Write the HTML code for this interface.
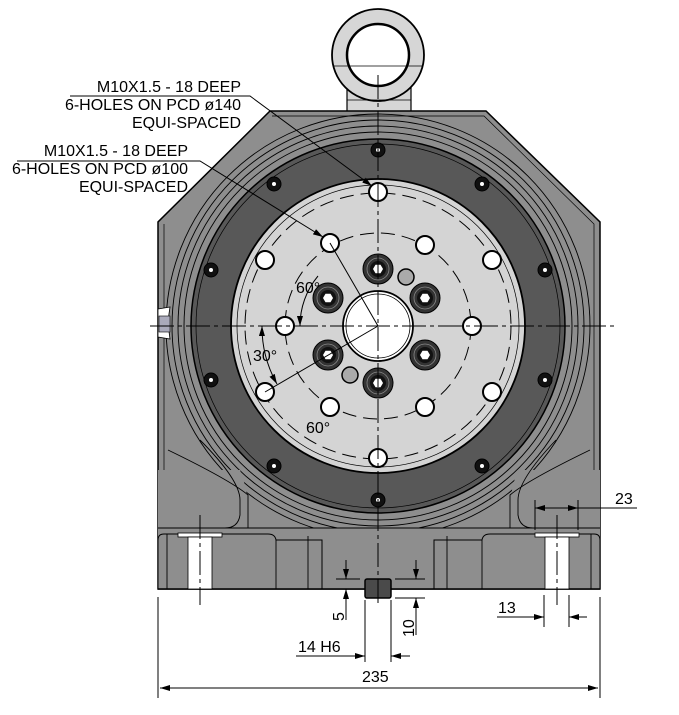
<!DOCTYPE html>
<html><head><meta charset="utf-8"><style>html,body{margin:0;padding:0;background:#fff}svg{display:block}</style></head>
<body>
<svg width="679" height="715" viewBox="0 0 679 715" xmlns="http://www.w3.org/2000/svg" font-family="Liberation Sans, sans-serif">
<defs>
<marker id="a" markerWidth="10" markerHeight="6" refX="10" refY="3" orient="auto" markerUnits="userSpaceOnUse"><path d="M0,0 L10,3 L0,6z" fill="#000"/></marker>
<marker id="b" markerWidth="10" markerHeight="6" refX="0" refY="3" orient="auto" markerUnits="userSpaceOnUse"><path d="M10,0 L0,3 L10,6z" fill="#000"/></marker>
<g id="hx"><circle r="15" fill="#333" stroke="#000"/><circle r="11" fill="none" stroke="#888" stroke-width="0.8"/><circle r="8" fill="#111"/><polygon points="-5,0 -2.5,-4.3 2.5,-4.3 5,0 2.5,4.3 -2.5,4.3" fill="#fff"/></g>
</defs>
<!-- eyebolt -->
<path d="M347,88 L347,112 L411,112 L411,88 Z" fill="#d6d6d6" stroke="#000" stroke-width="1.2"/>
<circle cx="378" cy="55" r="46" fill="#d6d6d6" stroke="#000" stroke-width="1.8"/>
<circle cx="378" cy="55" r="31" fill="#fff" stroke="#000" stroke-width="2.5"/>
<line x1="333" y1="66" x2="423" y2="66" stroke="#000" stroke-width="0.8"/>
<line x1="347" y1="100" x2="411" y2="100" stroke="#000" stroke-width="0.8"/>
<!-- housing -->
<path d="M270,111 L486,111 L600,222 L600,589 L158,589 L158,222 Z" fill="#8e8e8e" stroke="#000" stroke-width="1.5"/>
<path d="M272,116 L484,116 L594,224 L594,528 M164,528 L164,224 Z" fill="none" stroke="#000" stroke-width="0.7"/>
<line x1="158" y1="528" x2="600" y2="528" stroke="#000" stroke-width="0.9"/>
<!-- grooves -->
<g fill="none" stroke="#000" stroke-width="0.9">
<circle cx="378" cy="326" r="212"/><circle cx="378" cy="326" r="206"/><circle cx="378" cy="326" r="200"/><circle cx="378" cy="326" r="194"/>
</g>
<path d="M158,528 L600,528 L600,589 L158,589Z" fill="#8e8e8e"/>
<path d="M158,470 L240,470 Q248,490 248,510 L248,528 L158,528Z" fill="#8e8e8e"/>
<path d="M600,470 L518,470 Q510,490 510,510 L510,528 L600,528Z" fill="#8e8e8e"/>
<path d="M200,440 Q240,480 240,500 L240,515 Q238,528 225,528 M168,450 Q230,480 248,495 L248,528" fill="none" stroke="#000" stroke-width="0.9"/>
<path d="M556,440 Q518,480 518,500 L518,515 Q520,528 533,528 M590,450 Q528,480 510,495 L510,528" fill="none" stroke="#000" stroke-width="0.9"/>
<line x1="158" y1="528" x2="600" y2="528" stroke="#000" stroke-width="0.9"/>
<!-- feet -->
<path d="M158,589 L158,540 Q158,534 164,534 L268,534 Q275,534 276,540 L322,540 L322,589Z" fill="#8e8e8e" stroke="#000" stroke-width="1"/>
<path d="M600,589 L600,540 Q600,534 594,534 L490,534 Q483,534 482,540 L434,540 L434,589Z" fill="#8e8e8e" stroke="#000" stroke-width="1"/>
<g stroke="#000" stroke-width="0.9"><line x1="167" y1="534" x2="167" y2="589"/><line x1="276" y1="540" x2="276" y2="589"/><line x1="308" y1="536" x2="308" y2="589"/>
<line x1="591" y1="534" x2="591" y2="589"/><line x1="482" y1="540" x2="482" y2="589"/><line x1="447" y1="536" x2="447" y2="589"/></g>
<line x1="158" y1="589" x2="600" y2="589" stroke="#000" stroke-width="1.5"/>
<rect x="178" y="533" width="44" height="4" fill="#fff" stroke="#000" stroke-width="0.8"/>
<rect x="188" y="537" width="24" height="52" fill="#fff" stroke="#000" stroke-width="0.8"/>
<rect x="535" y="533" width="44" height="4" fill="#fff" stroke="#000" stroke-width="0.8"/>
<rect x="545" y="537" width="24" height="52" fill="#fff" stroke="#000" stroke-width="0.8"/>
<rect x="365" y="579" width="26" height="19" rx="2" fill="#4a4a4a" stroke="#000" stroke-width="1.5"/>
<!-- side plug -->
<path d="M158,309 L170,307 Q167,322 170,339 L158,337Z" fill="#fff" stroke="#000" stroke-width="0.8"/>
<rect x="159" y="316" width="11" height="16" fill="#aab" stroke="#000" stroke-width="0.6"/>
<!-- dark ring -->
<circle cx="378" cy="326" r="187" fill="#585858" stroke="#000" stroke-width="1.5"/>
<circle cx="378" cy="326" r="182" fill="none" stroke="#000" stroke-width="0.7"/>
<g fill="#111" stroke="#000">
<circle cx="378" cy="150" r="7"/><circle cx="274" cy="184" r="7"/><circle cx="482" cy="184" r="7"/>
<circle cx="211" cy="270" r="7"/><circle cx="545" cy="270" r="7"/><circle cx="211" cy="380" r="7"/><circle cx="545" cy="380" r="7"/>
<circle cx="274" cy="466" r="7"/><circle cx="482" cy="466" r="7"/><circle cx="378" cy="500" r="7"/></g>
<g fill="#fff"><circle cx="378" cy="150" r="2"/><circle cx="274" cy="184" r="2"/><circle cx="482" cy="184" r="2"/>
<circle cx="211" cy="270" r="2"/><circle cx="545" cy="270" r="2"/><circle cx="211" cy="380" r="2"/><circle cx="545" cy="380" r="2"/>
<circle cx="274" cy="466" r="2"/><circle cx="482" cy="466" r="2"/><circle cx="378" cy="500" r="2"/></g>
<!-- plate -->
<circle cx="378" cy="326" r="147" fill="#d4d4d4" stroke="#000" stroke-width="1.8"/>
<circle cx="378" cy="326" r="141" fill="none" stroke="#000" stroke-width="0.7"/>
<g fill="none" stroke="#000" stroke-width="1" stroke-dasharray="14,7">
<circle cx="378" cy="326" r="133"/><circle cx="378" cy="326" r="93"/></g>
<circle cx="378" cy="326" r="35" fill="#fff" stroke="#000" stroke-width="1.8"/>
<circle cx="378" cy="326" r="32" fill="none" stroke="#000" stroke-width="0.8"/>
<use href="#hx" x="378" y="269"/><use href="#hx" x="328" y="298"/><use href="#hx" x="425" y="298"/>
<use href="#hx" x="328" y="355"/><use href="#hx" x="425" y="355"/><use href="#hx" x="378" y="383"/>
<circle cx="406" cy="277" r="8" fill="#aaa" stroke="#000" stroke-width="1.5"/>
<circle cx="350" cy="375" r="8" fill="#aaa" stroke="#000" stroke-width="1.5"/>
<g fill="#fff" stroke="#000" stroke-width="2">
<circle cx="378" cy="192" r="9"/><circle cx="378" cy="458" r="9"/><circle cx="265" cy="260" r="9"/><circle cx="492" cy="260" r="9"/><circle cx="265" cy="392" r="9"/><circle cx="492" cy="392" r="9"/>
<circle cx="330" cy="243" r="9"/><circle cx="425" cy="245" r="9"/><circle cx="285" cy="326" r="9"/><circle cx="472" cy="326" r="9"/><circle cx="330" cy="407" r="9"/><circle cx="425" cy="407" r="9"/></g>
<g stroke="#000" stroke-width="1" stroke-dasharray="24,4,4,4">
<line x1="150" y1="326" x2="615" y2="326"/><line x1="378" y1="75" x2="378" y2="605"/>
<line x1="200" y1="515" x2="200" y2="605"/><line x1="557" y1="515" x2="557" y2="605"/></g>
<g stroke="#000" stroke-width="1" fill="none">
<line x1="378" y1="326" x2="330" y2="243"/><line x1="378" y1="326" x2="265" y2="392"/>
<path d="M300,326 A78,78 0 0 1 318,276" marker-start="url(#b)"/>
<path d="M262,326 A116,116 0 0 0 277,384" marker-start="url(#b)" marker-end="url(#a)"/>
</g>
<g font-size="16" fill="#000">
<text x="296" y="293">60°</text><text x="253" y="361">30°</text><text x="306" y="433">60°</text></g>
<g stroke="#000" stroke-width="1" fill="none">
<polyline points="70,96 250,96 372,186" marker-end="url(#a)"/>
<polyline points="17,161 200,161 323,237" marker-end="url(#a)"/>
</g>
<g font-size="16" fill="#000" text-anchor="end">
<text x="241" y="92">M10X1.5 - 18 DEEP</text><text x="241" y="110">6-HOLES ON PCD ø140</text><text x="241" y="128">EQUI-SPACED</text>
<text x="188" y="156">M10X1.5 - 18 DEEP</text><text x="188" y="174">6-HOLES ON PCD ø100</text><text x="188" y="192">EQUI-SPACED</text></g>
<g stroke="#000" stroke-width="1" fill="none">
<line x1="158" y1="597" x2="158" y2="698"/><line x1="600" y1="597" x2="600" y2="698"/>
<line x1="160" y1="688" x2="598" y2="688" marker-start="url(#b)" marker-end="url(#a)"/>
<line x1="365" y1="600" x2="365" y2="662"/><line x1="391" y1="600" x2="391" y2="662"/>
<polyline points="296,656 365,656" marker-end="url(#a)"/><line x1="410" y1="656" x2="391" y2="656" marker-end="url(#a)"/>
<line x1="336" y1="579" x2="360" y2="579"/><line x1="395" y1="579" x2="425" y2="579"/><line x1="395" y1="598" x2="425" y2="598"/>
<line x1="346" y1="560" x2="346" y2="579" marker-end="url(#a)"/><line x1="346" y1="620" x2="346" y2="589" marker-end="url(#a)"/>
<line x1="416" y1="560" x2="416" y2="579" marker-end="url(#a)"/><line x1="416" y1="635" x2="416" y2="598" marker-end="url(#a)"/>
<line x1="535" y1="500" x2="535" y2="530"/><line x1="578" y1="500" x2="578" y2="530"/>
<line x1="557" y1="508" x2="535" y2="508" marker-end="url(#a)"/><line x1="557" y1="508" x2="578" y2="508" marker-end="url(#a)"/><line x1="578" y1="508" x2="637" y2="508"/>
<line x1="544" y1="595" x2="544" y2="627"/><line x1="569" y1="595" x2="569" y2="627"/>
<line x1="497" y1="617" x2="544" y2="617" marker-end="url(#a)"/><line x1="587" y1="617" x2="569" y2="617" marker-end="url(#a)"/>
</g>
<g font-size="16" fill="#000">
<text x="362" y="682">235</text><text x="298" y="652">14 H6</text><text x="615" y="504">23</text><text x="498" y="613">13</text>
<text transform="translate(344,621) rotate(-90)">5</text><text transform="translate(414,637) rotate(-90)">10</text></g>
</svg>
</body></html>
